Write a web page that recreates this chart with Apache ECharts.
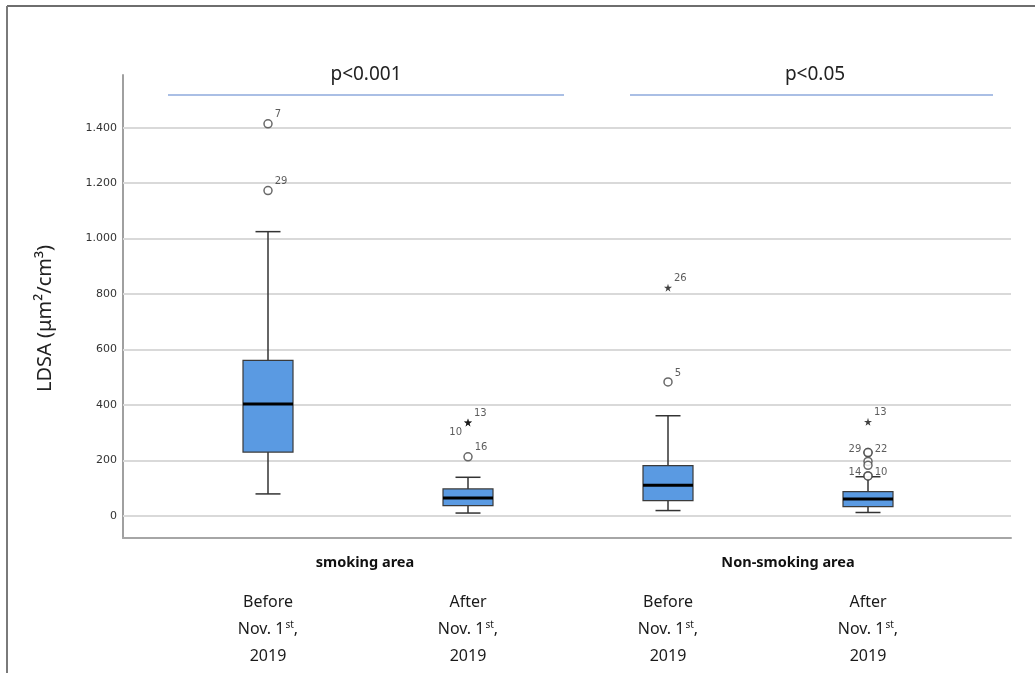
<!DOCTYPE html>
<html>
<head>
<meta charset="utf-8">
<script src="https://cdn.jsdelivr.net/npm/echarts@6/dist/echarts.min.js"></script>
<style>
  html, body { margin: 0; padding: 0; background: #fff; }
  #chart { width: 1035px; height: 673px; }
</style>
</head>
<body>
<div id="chart"></div>
<script>
// categories (one box each)
const categories = ['smoking-before', 'smoking-after', 'nonsmoking-before', 'nonsmoking-after'];
const periodLabels = ['Before', 'After', 'Before', 'After'];
const groupLabels = ['smoking area', 'Non-smoking area'];
const pValues = ['p<0.001', 'p<0.05'];

// box statistics, LDSA (µm²/cm³)
const whiskerLow = [79, 10, 19, 12];
const q1 = [230, 37, 55, 33];
const median = [403, 64, 110, 61];
const q3 = [561, 97, 181, 87];
const whiskerHigh = [1025, 139, 361, 141];

// outliers: [category index, value, case id, kind]
const outliers = [
  [0, 1414, '7', 'circle'],
  [0, 1173, '29', 'circle'],
  [1, 337, '13', 'star'],
  [1, 337, '10', 'star'],
  [1, 213, '16', 'circle'],
  [2, 823, '26', 'star'],
  [2, 483, '5', 'circle'],
  [3, 339, '13', 'star'],
  [3, 228, '29', 'circle'],
  [3, 228, '22', 'circle'],
  [3, 196, '', 'circle'],
  [3, 182, '', 'circle'],
  [3, 144, '14', 'circle'],
  [3, 144, '10', 'circle']
];
// where each case id goes beside its marker
const outlierLabelSide = ['rt', 'rt', 'rt', 'lb', 'rt', 'rt', 'rt', 'rt', 'l', 'r', 'r', 'r', 'l', 'r'];

const yTicks = [0, 200, 400, 600, 800, 1000, 1200, 1400];
const yMin = -80, yMax = 1590;

const STAR = 'path://M50,0 L61,35 L98,35 L68,57 L79,91 L50,70 L21,91 L32,57 L2,35 L39,35 Z';
const BASE_FONT = '"Noto Sans", sans-serif';

function fmtThousands(v) {
  return String(v).replace(/\B(?=(\d{3})+(?!\d))/g, '.');
}

function sideLabel(side) {
  const common = { show: true, formatter: '{b}', fontSize: 10, color: '#333', fontFamily: 'DejaVu Sans', distance: 2 };
  if (side === 'rt') return Object.assign(common, { position: 'right', offset: [0, -9] });
  if (side === 'lb') return Object.assign(common, { position: 'left', offset: [0, 10] });
  if (side === 'l') return Object.assign(common, { position: 'left', offset: [0, -3] });
  return Object.assign(common, { position: 'right', offset: [0, -3] });
}

const boxData = categories.map((c, i) => [i, whiskerLow[i], q1[i], median[i], q3[i], whiskerHigh[i]]);

const outlierData = outliers.map((o, i) => ({
  name: o[2],
  value: [o[0], o[1]],
  symbol: o[3] === 'star' ? STAR : 'circle',
  symbolSize: 8,
  itemStyle: o[3] === 'star'
    ? { color: '#111', borderWidth: 0 }
    : { color: '#fff', borderColor: '#444', borderWidth: 1.5 },
  label: o[2] ? sideLabel(outlierLabelSide[i]) : { show: false }
}));

function renderBox(params, api) {
  const x = api.value(0);
  const lo = api.coord([x, api.value(1)]);
  const b1 = api.coord([x, api.value(2)]);
  const md = api.coord([x, api.value(3)]);
  const b3 = api.coord([x, api.value(4)]);
  const hi = api.coord([x, api.value(5)]);
  const cx = lo[0], hw = 25, cw = 12.5;
  const stroke = { stroke: '#333', lineWidth: 1.5 };
  return {
    type: 'group',
    children: [
      { type: 'line', shape: { x1: cx, y1: lo[1], x2: cx, y2: b1[1] }, style: stroke },
      { type: 'line', shape: { x1: cx, y1: b3[1], x2: cx, y2: hi[1] }, style: stroke },
      { type: 'line', shape: { x1: cx - cw, y1: lo[1], x2: cx + cw, y2: lo[1] }, style: stroke },
      { type: 'line', shape: { x1: cx - cw, y1: hi[1], x2: cx + cw, y2: hi[1] }, style: stroke },
      { type: 'rect', shape: { x: cx - hw, y: b3[1], width: hw * 2, height: b1[1] - b3[1] },
        style: { fill: '#5a9ae2', stroke: '#3a3a3a', lineWidth: 1.2 } },
      { type: 'line', shape: { x1: cx - hw, y1: md[1], x2: cx + hw, y2: md[1] },
        style: { stroke: '#000', lineWidth: 3 } }
    ]
  };
}

const chart = echarts.init(document.getElementById('chart'));
chart.setOption({
  backgroundColor: '#fff',
  animation: false,
  grid: [
    { left: 123, right: 24, top: 75, bottom: 135 },
    { left: 168, right: 67, top: 75, bottom: 135 }
  ],
  xAxis: [
    { gridIndex: 0, type: 'value', min: 0, max: 1,
      axisLine: { show: true, onZero: false, lineStyle: { color: '#a6a6a6', width: 2 } },
      axisTick: { show: false }, axisLabel: { show: false }, splitLine: { show: false } },
    { gridIndex: 1, type: 'category', data: categories, boundaryGap: true,
      axisLine: { show: false }, axisTick: { show: false }, splitLine: { show: false },
      axisLabel: {
        margin: 51,
        interval: 0,
        formatter: (v, i) => periodLabels[i] + '\nNov. 1{sup|st},\n2019',
        fontFamily: BASE_FONT, fontSize: 16, color: '#1a1a1a', lineHeight: 27,
        rich: { sup: { fontSize: 10, fontFamily: BASE_FONT, color: '#1a1a1a', verticalAlign: 'top', lineHeight: 27, padding: [4, 0, 0, 1] } }
      } }
  ],
  yAxis: [
    { gridIndex: 0, type: 'value', min: yMin, max: yMax,
      name: 'LDSA (μm²/cm³)', nameLocation: 'middle', nameGap: 68, nameRotate: 90,
      nameTextStyle: { fontFamily: BASE_FONT, fontSize: 20, color: '#222', padding: [0, 24, 0, 0] },
      axisLine: { show: true, lineStyle: { color: '#a0a0a0', width: 2 } },
      axisTick: { show: false },
      splitLine: { show: false },
      axisLabel: { customValues: yTicks, formatter: fmtThousands, margin: 6,
        fontFamily: 'DejaVu Sans', fontSize: 11, color: '#333' } },
    { gridIndex: 1, type: 'value', min: yMin, max: yMax, show: false, splitLine: { show: false } }
  ],
  graphic: [
    { type: 'line', shape: { x1: 7, y1: 6, x2: 1035, y2: 6 }, style: { stroke: '#6e6e6e', lineWidth: 2 } },
    { type: 'line', shape: { x1: 7, y1: 6, x2: 7, y2: 673 }, style: { stroke: '#7a7a7a', lineWidth: 2 } },
    { type: 'line', shape: { x1: 168, y1: 95, x2: 564, y2: 95 }, style: { stroke: '#8eaadc', lineWidth: 1.5 } },
    { type: 'line', shape: { x1: 630, y1: 95, x2: 993, y2: 95 }, style: { stroke: '#8eaadc', lineWidth: 1.5 } },
    { type: 'text', x: 366, y: 75, style: { text: pValues[0], fontFamily: BASE_FONT, fontSize: 19, fill: '#222', textAlign: 'center', textVerticalAlign: 'middle' } },
    { type: 'text', x: 815, y: 75, style: { text: pValues[1], fontFamily: BASE_FONT, fontSize: 19, fill: '#222', textAlign: 'center', textVerticalAlign: 'middle' } },
    { type: 'text', x: 365, y: 563, style: { text: groupLabels[0], fontFamily: BASE_FONT, fontWeight: 'bold', fontSize: 14.5, fill: '#111', textAlign: 'center', textVerticalAlign: 'middle' } },
    { type: 'text', x: 788, y: 563, style: { text: groupLabels[1], fontFamily: BASE_FONT, fontWeight: 'bold', fontSize: 14.5, fill: '#111', textAlign: 'center', textVerticalAlign: 'middle' } }
  ],
  series: [
    // light horizontal gridlines, kept under the boxes
    { type: 'line', xAxisIndex: 0, yAxisIndex: 0, data: [], silent: true, z: 1,
      markLine: { silent: true, symbol: 'none', label: { show: false }, z: 1,
        lineStyle: { color: '#d9d9d9', width: 2, type: 'solid' },
        data: yTicks.map(v => ({ yAxis: v })) } },
    { type: 'custom', xAxisIndex: 1, yAxisIndex: 1, renderItem: renderBox,
      encode: { x: 0, y: [1, 2, 3, 4, 5] }, data: boxData, z: 6 },
    { type: 'scatter', xAxisIndex: 1, yAxisIndex: 1, data: outlierData, z: 7 }
  ]
});
</script>
</body>
</html>
